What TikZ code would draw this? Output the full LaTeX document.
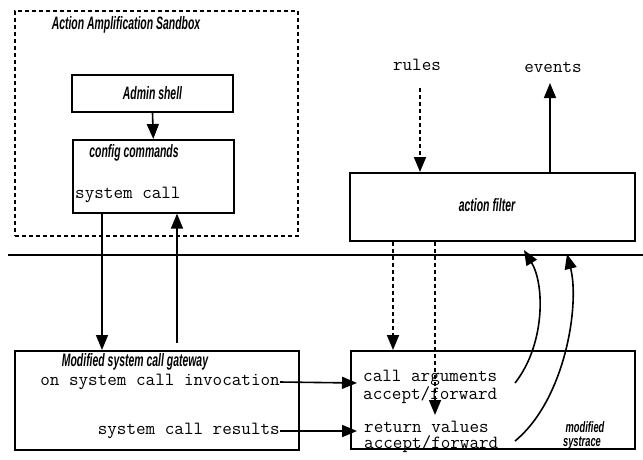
\documentclass[tikz,border=0pt]{standalone}
\usepackage{fontspec}
\setmainfont{Liberation Sans}
\usetikzlibrary{arrows.meta}
\newcommand{\lab}[1]{\scalebox{0.58}[1]{\fontsize{18}{20}\selectfont\bfseries\itshape #1}}
\newcommand{\slab}[1]{\scalebox{0.62}[1]{\fontsize{15}{17}\selectfont\bfseries\itshape #1}}
\newcommand{\mono}{\fontsize{18.6}{16}\selectfont\ttfamily}
\tikzset{
  box/.style={draw, line width=1.6pt, rectangle, inner sep=0pt},
  arr/.style={line width=1.6pt, -{Triangle[length=15pt,width=12pt]}},
  dotarr/.style={line width=1.8pt, dash pattern=on 4pt off 3pt, -{Triangle[length=15pt,width=12pt]}},
  lbl/.style={inner sep=0pt},
  txt/.style={inner sep=0pt, font=\mono, align=left},
}
\begin{document}
\begin{tikzpicture}[x=1pt,y=-1pt]
\useasboundingbox (0,0) rectangle (643,459);
% sandbox
\node[draw, line width=1.6pt, dash pattern=on 4pt off 3pt, minimum width=283pt, minimum height=225pt, anchor=north west, inner sep=0pt] (sandbox) at (14,10) {};
\node[lbl] (sbtitle) at (126,25) {\lab{Action Amplification Sandbox}};
\node[box, minimum width=161pt, minimum height=37pt] (admin) at (152.5,93.5) {\lab{Admin shell}};
\node[box, minimum width=161pt, minimum height=73pt, anchor=north west] (config) at (72,139) {};
\node[lbl] (cfgtitle) at (134,153) {\lab{config commands}};
\node[txt, anchor=west] (syscall) at (75,195) {system call};
% separator
\coordinate (hl) at (8,255);
\coordinate (hr) at (643,255);
\draw[line width=1.6pt] (hl) -- (hr);
% gateway
\node[box, minimum width=284pt, minimum height=99pt, anchor=north west] (gateway) at (14,350) {};
\node[lbl] (gwtitle) at (135,362) {\lab{Modified system call gateway}};
\node[txt, anchor=east] (inv) at (280,382) {on system call invocation};
\node[txt, anchor=east] (res) at (280,431) {system call results};
% systrace
\node[box, minimum width=284pt, minimum height=98pt, anchor=north west] (systrace) at (350,350) {};
\node[txt, anchor=north west] (args) at (363,370) {call arguments\\[0pt]accept/forward};
\node[txt, anchor=north west] (rets) at (364,421) {return values\\[0pt]accept/forward};
\node[lbl] (stlabel1) at (585,427) {\slab{modified}};
\node[lbl] (stlabel2) at (582,443) {\slab{systrace}};
% action filter
\node[box, minimum width=285pt, minimum height=68pt, anchor=north west] (filter) at (349,172) {};
\node[lbl] (fltitle) at (487,205) {\lab{action filter}};
\node[txt] (rules) at (417,65) {rules};
\node[txt] (events) at (553,67) {events};
% connectors
\draw[arr] (admin.south) -- (config.north);
\draw[arr] (config.south -| 102,0) -- (gateway.north -| 102,0);
\coordinate (upstart) at (177,343);
\draw[arr] (upstart) -- (config.south -| upstart);
\coordinate (argin) at (357,383);
\coordinate (retin) at (357,431);
\draw[arr] (inv.east) -- (argin);
\draw[arr] (res.east) -- (retin);
\coordinate (rulestart) at (420,88);
\draw[dotarr] (rulestart) -- (filter.north -| rulestart);
\coordinate (evend) at (550,83);
\draw[arr] (filter.north -| evend) -- (evend);
\coordinate (d1) at (393,0);
\draw[dotarr] (filter.south -| d1) -- (systrace.north -| d1);
\coordinate (d2end) at (435,415);
\draw[dotarr] (filter.south -| d2end) -- (d2end);
\coordinate (c1s) at (515,383);
\coordinate (c1e) at (524,250);
\coordinate (c2s) at (515,441);
\coordinate (c2e) at (567,254);
\draw[arr] (c1s) .. controls (545,345) and (545,285) .. (c1e);
\draw[arr] (c2s) .. controls (565,400) and (580,305) .. (c2e);
\end{tikzpicture}
\end{document}
